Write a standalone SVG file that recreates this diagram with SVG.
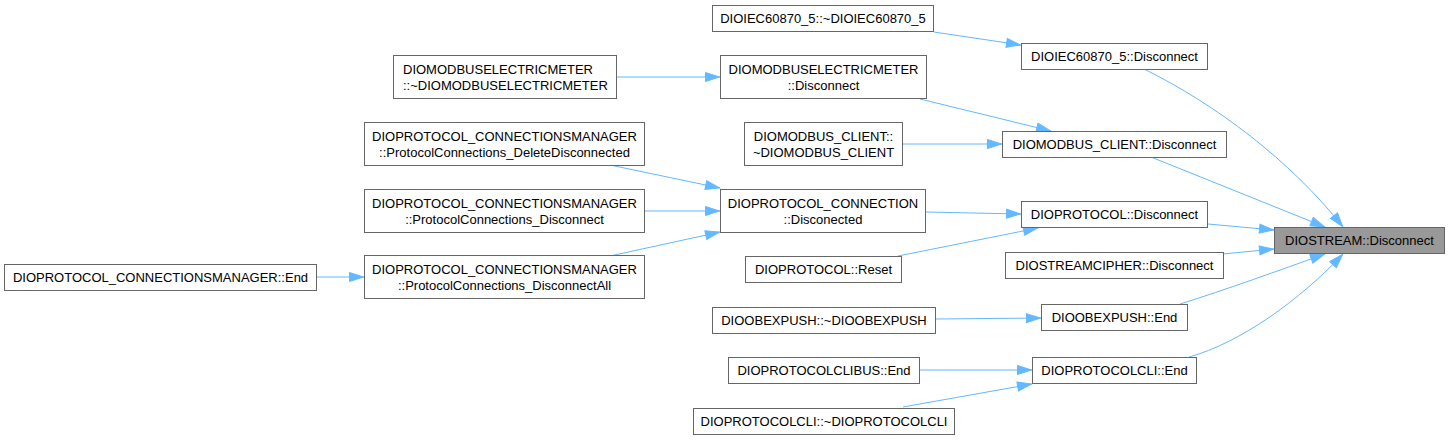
<svg xmlns="http://www.w3.org/2000/svg" width="1450" height="440" viewBox="0 0 1450 440">
<style>
.n rect{fill:#ffffff;stroke:#666666;stroke-width:1}
.n.t rect{fill:#999999}
.n text{font-family:"Liberation Sans",Arial,Helvetica,sans-serif;font-size:13px;fill:#000000;text-anchor:middle}
.n text.l{text-anchor:start}
.e path{fill:none;stroke:#63b8ff;stroke-width:1;marker-end:url(#ah)}
</style>
<defs>
<marker id="ah" viewBox="0 0 15 10" markerUnits="userSpaceOnUse" markerWidth="15" markerHeight="10" refX="15" refY="5" orient="auto" overflow="visible">
<path d="M0.5,0.5 L14.5,5 L0.5,9.5 Z" fill="#63b8ff" stroke="#63b8ff" stroke-width="1"/>
</marker>
</defs>
<rect width="1450" height="440" fill="#ffffff"/>
<g class="e" id="edges">
<path d="M934,32 L1021,45"/>
<path d="M617,77 L720,77"/>
<path d="M920,99 L1051,131"/>
<path d="M903,144 L1002,144"/>
<path d="M1151,157 L1325,227"/>
<path d="M1144,69 C1215,104 1290,160 1343,227"/>
<path d="M610,165 L720,188"/>
<path d="M645,211 L720,211"/>
<path d="M610,256 L720,232"/>
<path d="M317,277 L364,277"/>
<path d="M926,212 L1021,214"/>
<path d="M898,256 L1038,228"/>
<path d="M1208,224 L1274,230"/>
<path d="M1223,254 L1274,249"/>
<path d="M935,319 L1041,318"/>
<path d="M1180,304 C1225,290 1280,270 1325,254"/>
<path d="M1189,357 C1240,343 1300,300 1343,254"/>
<path d="M919,370 L1032,370"/>
<path d="M903,407 L1032,384"/>
</g>
<g class="n t" id="n0"><rect x="1274.5" y="227.5" width="170" height="26"/><text x="1359.5" y="245">DIOSTREAM::Disconnect</text></g>
<g class="n" id="n1"><rect x="1021.5" y="43.5" width="186" height="26"/><text x="1114.5" y="61">DIOIEC60870_5::Disconnect</text></g>
<g class="n" id="n2"><rect x="712.5" y="5.5" width="221" height="26"/><text x="823" y="23">DIOIEC60870_5::~DIOIEC60870_5</text></g>
<g class="n" id="n3"><rect x="1002.5" y="131.5" width="224" height="26"/><text x="1114.5" y="149">DIOMODBUS_CLIENT::Disconnect</text></g>
<g class="n" id="n4"><rect x="720.5" y="55.5" width="206" height="43"/><text x="823.5" y="74">DIOMODBUSELECTRICMETER</text><text x="823.5" y="90">::Disconnect</text></g>
<g class="n" id="n5"><rect x="393.5" y="55.5" width="223" height="43"/><text class="l" x="403" y="74">DIOMODBUSELECTRICMETER</text><text class="l" x="403" y="90">::~DIOMODBUSELECTRICMETER</text></g>
<g class="n" id="n6"><rect x="744.5" y="122.5" width="158" height="43"/><text x="823.5" y="141">DIOMODBUS_CLIENT::</text><text x="823.5" y="157">~DIOMODBUS_CLIENT</text></g>
<g class="n" id="n7"><rect x="1021.5" y="201.5" width="186" height="26"/><text x="1114.5" y="219">DIOPROTOCOL::Disconnect</text></g>
<g class="n" id="n8"><rect x="720.5" y="189.5" width="205" height="43"/><text x="823" y="208">DIOPROTOCOL_CONNECTION</text><text x="823" y="224">::Disconected</text></g>
<g class="n" id="n9"><rect x="364.5" y="122.5" width="280" height="43"/><text x="504.5" y="141">DIOPROTOCOL_CONNECTIONSMANAGER</text><text x="504.5" y="157">::ProtocolConnections_DeleteDisconnected</text></g>
<g class="n" id="n10"><rect x="364.5" y="189.5" width="280" height="43"/><text x="504.5" y="208">DIOPROTOCOL_CONNECTIONSMANAGER</text><text x="504.5" y="224">::ProtocolConnections_Disconnect</text></g>
<g class="n" id="n11"><rect x="364.5" y="255.5" width="280" height="43"/><text x="504.5" y="274">DIOPROTOCOL_CONNECTIONSMANAGER</text><text x="504.5" y="290">::ProtocolConnections_DisconnectAll</text></g>
<g class="n" id="n12"><rect x="4.5" y="264.5" width="312" height="26"/><text x="160.5" y="282">DIOPROTOCOL_CONNECTIONSMANAGER::End</text></g>
<g class="n" id="n13"><rect x="745.5" y="256.5" width="156" height="26"/><text x="823.5" y="274">DIOPROTOCOL::Reset</text></g>
<g class="n" id="n14"><rect x="1005.5" y="252.5" width="218" height="26"/><text x="1114.5" y="270">DIOSTREAMCIPHER::Disconnect</text></g>
<g class="n" id="n15"><rect x="1041.5" y="304.5" width="146" height="26"/><text x="1114.5" y="322">DIOOBEXPUSH::End</text></g>
<g class="n" id="n16"><rect x="712.5" y="307.5" width="223" height="26"/><text x="824" y="325">DIOOBEXPUSH::~DIOOBEXPUSH</text></g>
<g class="n" id="n17"><rect x="1032.5" y="357.5" width="164" height="26"/><text x="1114.5" y="375">DIOPROTOCOLCLI::End</text></g>
<g class="n" id="n18"><rect x="728.5" y="357.5" width="191" height="26"/><text x="824" y="375">DIOPROTOCOLCLIBUS::End</text></g>
<g class="n" id="n19"><rect x="693.5" y="408.5" width="261" height="26"/><text x="824" y="426">DIOPROTOCOLCLI::~DIOPROTOCOLCLI</text></g>
</svg>
